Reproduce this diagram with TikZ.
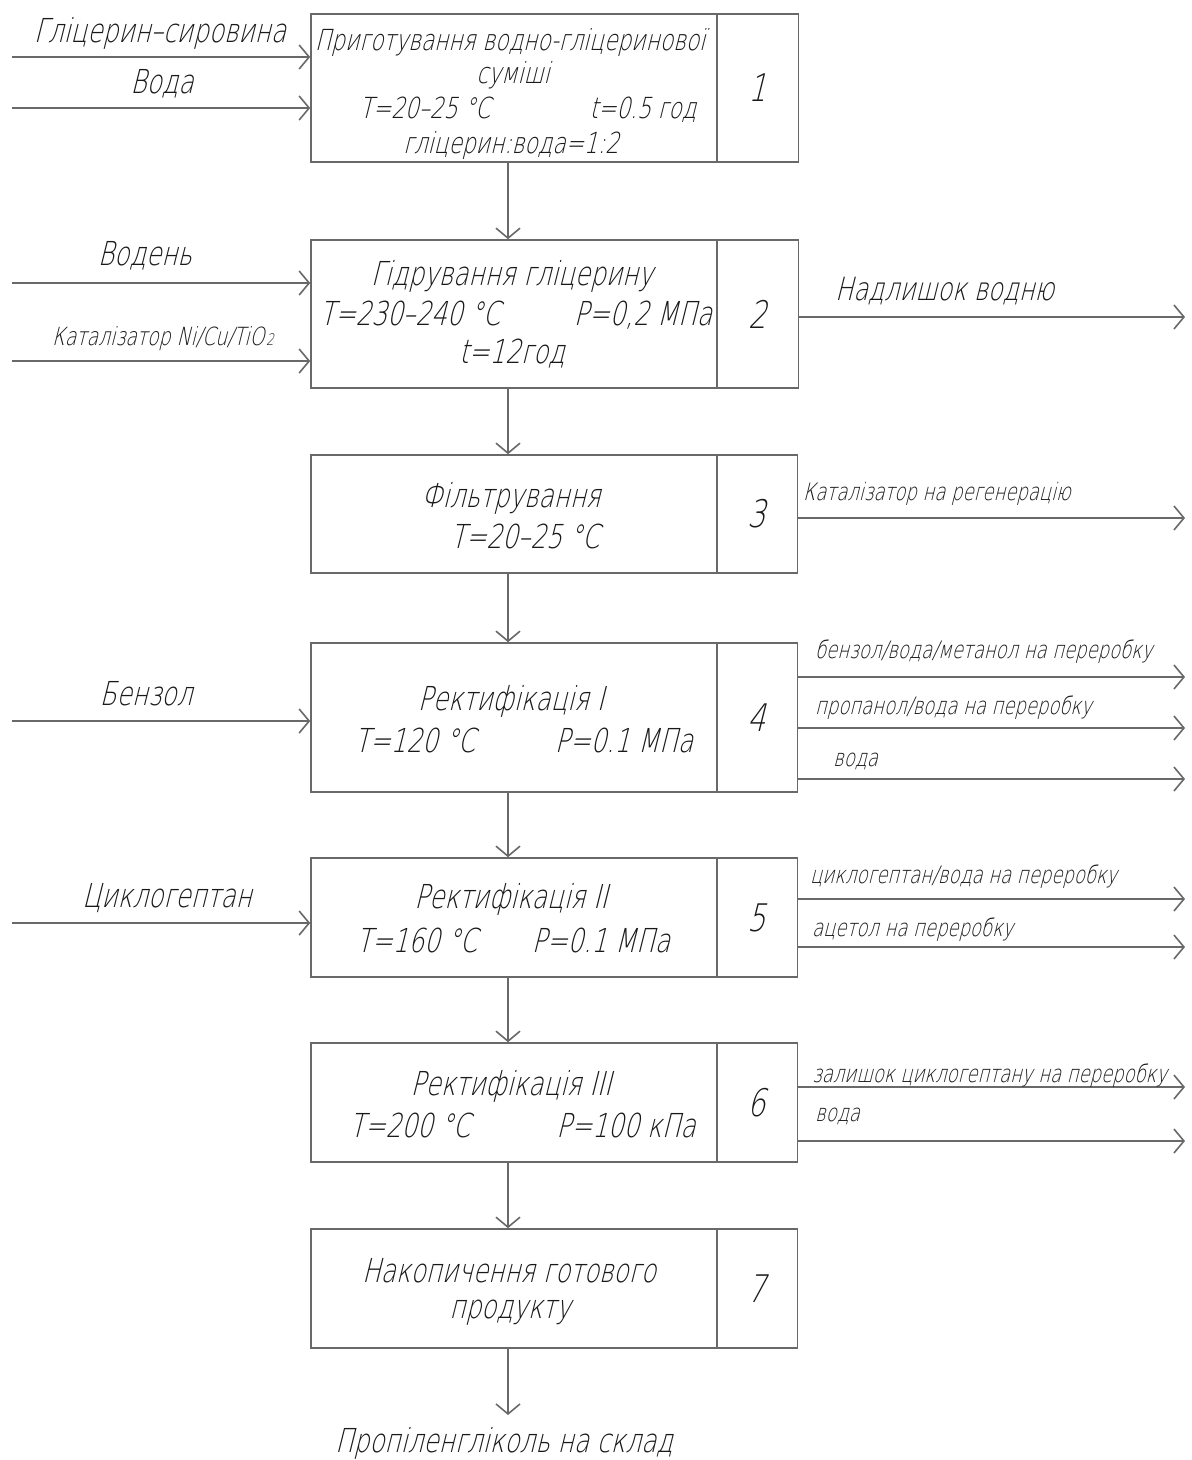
\documentclass[tikz,border=0pt]{standalone}
\usepackage{fontspec}
\setmainfont{DejaVu Sans ExtraLight}[FakeStretch=0.75,FakeSlant=0.25]
\usetikzlibrary{arrows.meta}
\definecolor{lc}{RGB}{105,105,105}
\definecolor{tc}{RGB}{25,25,25}
\newcommand\fsMain{\fontsize{33}{37}\selectfont}
\newcommand\fsBoxA{\fontsize{29}{33}\selectfont}
\newcommand\fsBig{\fontsize{32}{37}\selectfont}
\newcommand\fsSmall{\fontsize{24}{28}\selectfont}
\newcommand\fsCat{\fontsize{25}{29}\selectfont}
\newcommand\fsNum{\fontsize{38}{42}\selectfont}
\begin{document}
\begin{tikzpicture}[x=1pt,y=-1pt,
  box/.style={draw=lc,line width=1.6pt,inner sep=0pt,minimum width=406pt},
  cell/.style={draw=lc,line width=1.6pt,inner sep=0pt,minimum width=81pt,font=\fsNum,text=tc},
  arr/.style={draw=lc,line width=1.6pt,-{Straight Barb[length=10pt,width=24pt]}},
  lbl/.style={inner sep=0pt,text=tc,font=\fsMain,anchor=base},
  lbla/.style={lbl,font=\fsBoxA},
  lblbig/.style={lbl,font=\fsBig,anchor=base west},
  lbls/.style={lbl,font=\fsSmall,anchor=base west},
  lblcat/.style={lbl,font=\fsCat}]
\fill[white] (0,0) rectangle (1192,1460);
\useasboundingbox (0,0) rectangle (1192,1460);

% boxes
\node[box,minimum height=148pt] (b1) at (514,88) {};
\node[cell,minimum height=148pt] (c1) at (758,88) {1};
\node[box,minimum height=148pt] (b2) at (514,314) {};
\node[cell,minimum height=148pt] (c2) at (758,314) {2};
\node[box,minimum height=118pt] (b3) at (514,514) {};
\node[cell,minimum height=118pt] (c3) at (757,514) {3};
\node[box,minimum height=149pt] (b4) at (514,717.5) {};
\node[cell,minimum height=149pt] (c4) at (757,717.5) {4};
\node[box,minimum height=119pt] (b5) at (514,917.5) {};
\node[cell,minimum height=119pt] (c5) at (757,917.5) {5};
\node[box,minimum height=119pt] (b6) at (514,1102.5) {};
\node[cell,minimum height=119pt] (c6) at (757,1102.5) {6};
\node[box,minimum height=119pt] (b7) at (514,1288.5) {};
\node[cell,minimum height=119pt] (c7) at (757,1288.5) {7};

% box texts
\node[lbla] (t1a) at (510,50) {Приготування водно-гліцеринової};
\node[lbla] (t1b) at (513,83) {суміші};
\node[lbla] (t1c) at (425,118) {T=20–25 °C};
\node[lbla] (t1d) at (643,118) {t=0.5 год};
\node[lbla] (t1e) at (511,153) {гліцерин:вода=1:2};

\node[lbl] (t2a) at (512,285) {Гідрування гліцерину};
\node[lbl] (t2b) at (410,325) {T=230–240 °C};
\node[lbl] (t2c) at (643,325) {P=0,2 МПа};
\node[lbl] (t2d) at (512,363) {t=12год};

\node[lbl] (t3a) at (511,507) {Фільтрування};
\node[lbl] (t3b) at (525,548) {T=20–25 °C};

\node[lbl] (t4a) at (511,710) {Ректифікація I};
\node[lbl] (t4b) at (415,752) {T=120 °C};
\node[lbl] (t4c) at (624,752) {P=0.1 МПа};

\node[lbl] (t5a) at (511,908) {Ректифікація II};
\node[lbl] (t5b) at (417,952) {T=160 °C};
\node[lbl] (t5c) at (601,952) {P=0.1 МПа};

\node[lbl] (t6a) at (511,1095) {Ректифікація III};
\node[lbl] (t6b) at (410,1137) {T=200 °C};
\node[lbl] (t6c) at (626,1137) {P=100 кПа};

\node[lbl] (t7a) at (509,1282) {Накопичення готового};
\node[lbl] (t7b) at (510,1318) {продукту};

% vertical flow
\coordinate (vx) at (508,0);
\draw[arr] (b1.south -| vx) -- (b2.north -| vx);
\draw[arr] (b2.south -| vx) -- (b3.north -| vx);
\draw[arr] (b3.south -| vx) -- (b4.north -| vx);
\draw[arr] (b4.south -| vx) -- (b5.north -| vx);
\draw[arr] (b5.south -| vx) -- (b6.north -| vx);
\draw[arr] (b6.south -| vx) -- (b7.north -| vx);
\coordinate (fin) at (508,1415);
\draw[arr] (b7.south -| vx) -- (fin);
\node[lbl] (prod) at (504,1452) {Пропіленгліколь на склад};

% inputs
\coordinate (i1) at (12,57);
\coordinate (i2) at (12,108);
\coordinate (i3) at (12,283);
\coordinate (i4) at (12,361);
\coordinate (i5) at (12,721);
\coordinate (i6) at (12,923);
\draw[arr] (i1) -- (i1 -| b1.west);
\draw[arr] (i2) -- (i2 -| b1.west);
\draw[arr] (i3) -- (i3 -| b2.west);
\draw[arr] (i4) -- (i4 -| b2.west);
\draw[arr] (i5) -- (i5 -| b4.west);
\draw[arr] (i6) -- (i6 -| b5.west);
\node[lbl] (l1) at (160,42) {Гліцерин–сировина};
\node[lbl] (l2) at (162,93) {Вода};
\node[lbl] (l3) at (145,265) {Водень};
\node[lblcat] (l4) at (163,345) {Каталізатор Ni/Cu/TiO\kern2pt{\fontsize{16}{16}\selectfont 2}};
\node[lbl] (l5) at (146,705) {Бензол};
\node[lbl] (l6) at (167,907) {Циклогептан};

% outputs
\coordinate (o1) at (1185,317);
\coordinate (o2) at (1185,518);
\coordinate (o3) at (1185,677);
\coordinate (o4) at (1185,728);
\coordinate (o5) at (1185,779);
\coordinate (o6) at (1185,899);
\coordinate (o7) at (1185,947);
\coordinate (o8) at (1185,1087);
\coordinate (o9) at (1185,1141);
\draw[arr] (o1 -| c2.east) -- (o1);
\draw[arr] (o2 -| c3.east) -- (o2);
\draw[arr] (o3 -| c4.east) -- (o3);
\draw[arr] (o4 -| c4.east) -- (o4);
\draw[arr] (o5 -| c4.east) -- (o5);
\draw[arr] (o6 -| c5.east) -- (o6);
\draw[arr] (o7 -| c5.east) -- (o7);
\draw[arr] (o8 -| c6.east) -- (o8);
\draw[arr] (o9 -| c6.east) -- (o9);
\node[lblbig] (r1) at (835,300) {Надлишок водню};
\node[lbls] (r2) at (803,500) {Каталізатор на регенерацію};
\node[lbls] (r3) at (815,658) {бензол/вода/метанол на переробку};
\node[lbls] (r4) at (815,714) {пропанол/вода на переробку};
\node[lbls] (r5) at (833,766) {вода};
\node[lbls] (r6) at (810,883) {циклогептан/вода на переробку};
\node[lbls] (r7) at (812,936) {ацетол на переробку};
\node[lbls] (r8) at (812,1082) {залишок циклогептану на переробку};
\node[lbls] (r9) at (815,1121) {вода};
\end{tikzpicture}
\end{document}
